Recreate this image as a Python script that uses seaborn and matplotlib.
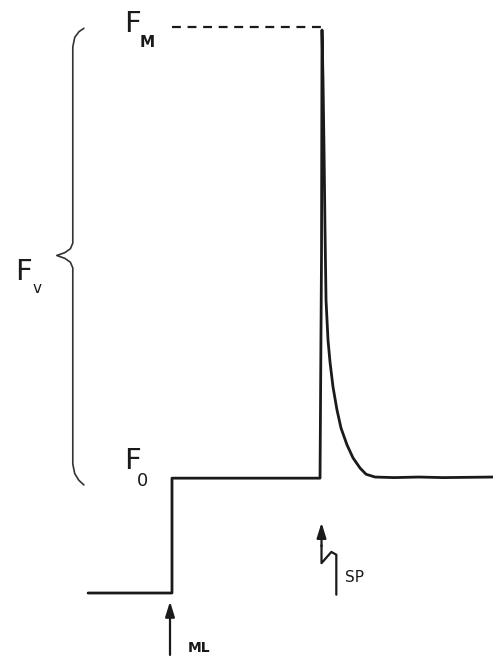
import numpy as np
import pandas as pd
import matplotlib
matplotlib.use("Agg")
import matplotlib.pyplot as plt
import seaborn as sns

# ---- data (relative units) ----
# time (s, measuring light switched on at t = 0) and fluorescence (dark = 0, FM = 1)
time_s = [-34, -20, -10, 0, 0, 20, 40, 60, 60.6, 60.8, 61.21, 61.62, 62.02, 62.43,
          63.24, 64.05, 65.26, 66.88, 68.50, 70.94, 73.37, 76.21, 78.64, 82.29,
          90, 100, 110, 130]
fluor = [0.0, 0.0, 0.0, 0.0, 0.204, 0.204, 0.204, 0.204, 0.60, 1.0, 0.911, 0.787,
         0.645, 0.520, 0.449, 0.410, 0.366, 0.325, 0.293, 0.263, 0.240, 0.222,
         0.211, 0.206, 0.205, 0.206, 0.205, 0.206]
F0 = 0.204
FM = 1.0
t_ml = 0.0
t_sp = 60.6

sns.set_style("white")
fig = plt.figure(figsize=(4.93, 6.63), dpi=100)
ax = fig.add_axes([0, 0, 1, 1])

df = pd.DataFrame({"t": time_s, "F": fluor})
sns.lineplot(data=df, x="t", y="F", ax=ax, estimator=None, sort=False,
             color="#1a1a1a", linewidth=2.0)

# dashed FM level
ax.plot([t_ml, t_sp], [FM + 0.005, FM + 0.005], color="#1a1a1a", lw=1.6,
        dashes=(4, 3))

ax.set_xlim(-69.7, 130.1)
ax.set_ylim(-0.1243, 1.0533)
ax.axis("off")

# brace for Fv (between F0 and FM)
def brace(ax, x, y0, y1, depth=6.5, curl=4.5):
    ym = (y0 + y1) / 2
    xs = [x + curl, x + 2.5, x + 0.8, x, x, x - depth * 0.15, x - depth * 0.5, x - depth,
          x - depth * 0.5, x - depth * 0.15, x, x, x + 0.8, x + 2.5, x + curl]
    ys = [y1 - 0.002, y1 - 0.008, y1 - 0.018, y1 - 0.035, ym + 0.022, ym + 0.012, ym + 0.005, ym,
          ym - 0.005, ym - 0.012, ym - 0.022, y0 + 0.035, y0 + 0.018, y0 + 0.006, y0 - 0.002]
    ax.plot(xs, ys, color="#333333", lw=1.2, solid_capstyle="round")

brace(ax, -40.2, F0 - 0.01, FM + 0.005)

txtc = "#1a1a1a"
ax.text(-19.5, FM + 0.01, "F", fontsize=21, color=txtc, ha="left", va="center")
ax.text(-13.0, FM - 0.022, "M", fontsize=11, fontweight="bold", color=txtc, ha="left", va="center")
ax.text(-19.5, F0 + 0.03, "F", fontsize=21, color=txtc, ha="left", va="center")
ax.text(-14.4, F0 - 0.005, "0", fontsize=13, color=txtc, ha="left", va="center")
ax.text(-63.5, 0.57, "F", fontsize=21, color=txtc, ha="left", va="center")
ax.text(-56.5, 0.54, "v", fontsize=11, color=txtc, ha="left", va="center")

# ML arrow
ax.annotate("", xy=(t_ml - 0.8, -0.015), xytext=(t_ml - 0.8, -0.11),
            arrowprops=dict(arrowstyle="-|>,head_length=0.9,head_width=0.28",
                            color=txtc, lw=1.6, shrinkA=0, shrinkB=0))
ax.text(t_ml + 6.5, -0.098, "ML", fontsize=10, fontweight="bold", color=txtc,
        ha="left", va="center")

# SP arrow with lightning zigzag
ax.plot([t_sp + 6.0, t_sp + 6.0, t_sp + 4.0, t_sp, t_sp],
        [-0.003, 0.068, 0.073, 0.053, 0.085], color=txtc, lw=1.6)
ax.annotate("", xy=(t_sp, 0.125), xytext=(t_sp, 0.083),
            arrowprops=dict(arrowstyle="-|>,head_length=0.9,head_width=0.28",
                            color=txtc, lw=1.6, shrinkA=0, shrinkB=0))
ax.text(t_sp + 9.5, 0.027, "SP", fontsize=11, color=txtc, ha="left", va="center")

fig.savefig("out.png", dpi=100)
